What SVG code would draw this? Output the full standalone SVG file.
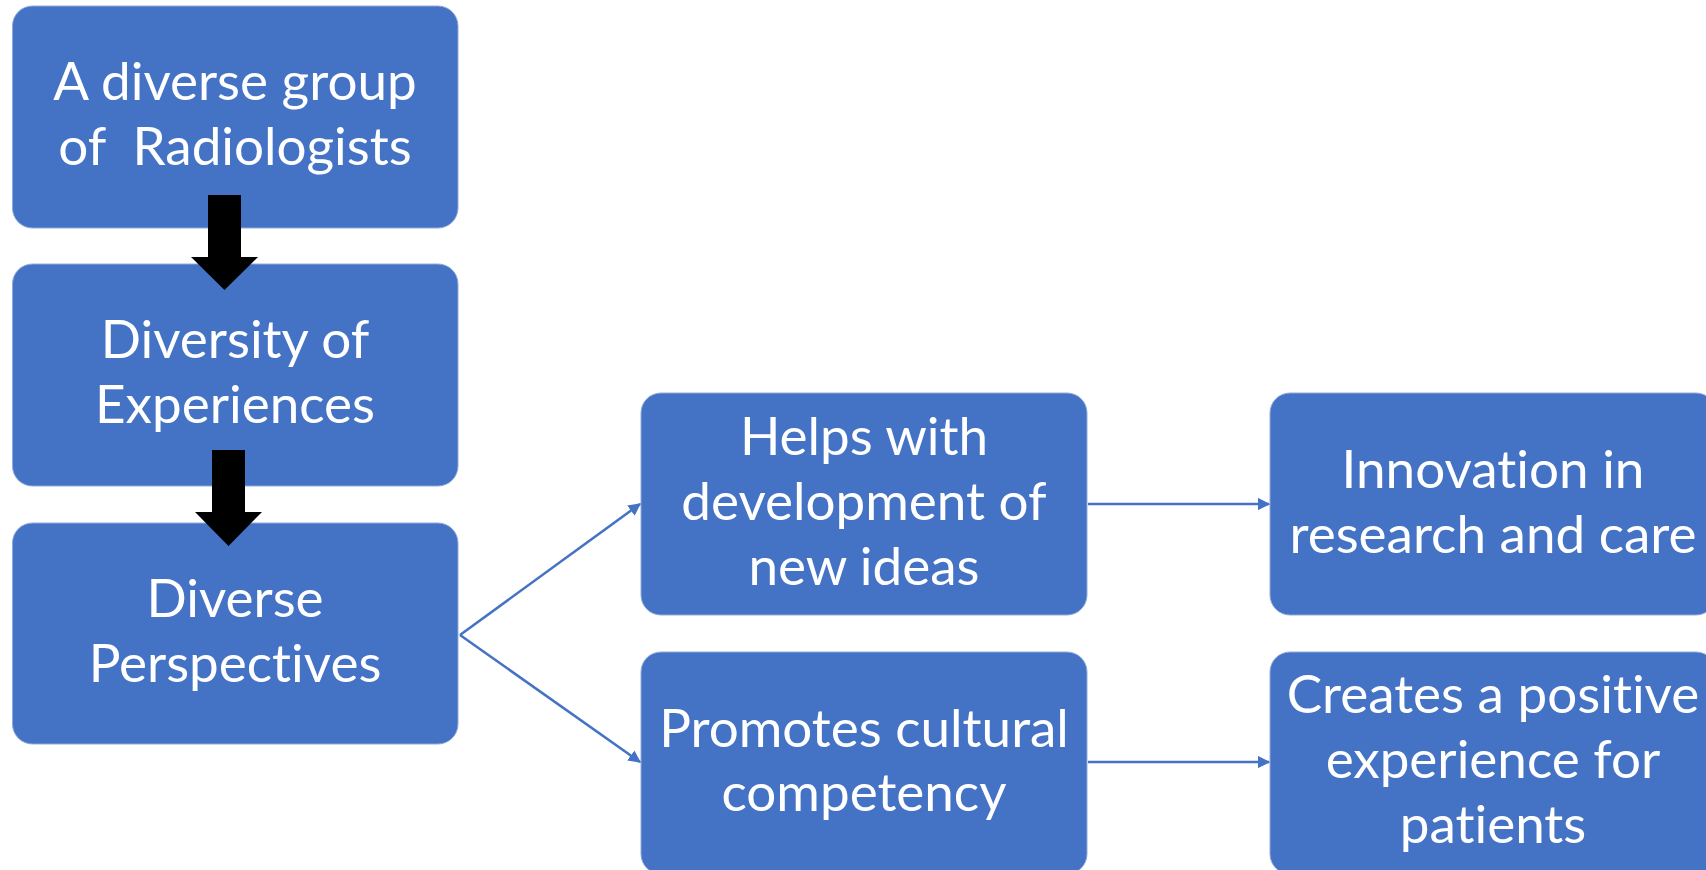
<svg xmlns="http://www.w3.org/2000/svg" width="1706" height="870" viewBox="0 0 1706 870">
  <defs>
    <marker id="tri" viewBox="0 0 10 10" refX="9" refY="5" markerWidth="5" markerHeight="5" orient="auto" markerUnits="strokeWidth">
      <path d="M0,0 L10,5 L0,10 Z" fill="#4472C4"/>
    </marker>
  </defs>
  <style>
    .box { fill: #4472C4; stroke: #8FAADC; stroke-width: 1; }
    .lbl { fill: #FFFFFF; font-family: Lato, "Open Sans", sans-serif; font-size: 53px; text-anchor: middle; font-variant-ligatures: none; font-feature-settings: "liga" 0; }
    .conn { stroke: #4472C4; stroke-width: 2.5; fill: none; marker-end: url(#tri); }
    .block { fill: #000000; }
  </style>
  <rect width="1706" height="870" fill="#FFFFFF"/>

  <g id="node-radiologists">
    <rect class="box" x="12.5" y="6" width="445.5" height="222" rx="20"/>
    <text class="lbl" x="235" y="100">A diverse group</text>
    <text class="lbl" x="235" y="165" xml:space="preserve">of  Radiologists</text>
  </g>

  <g id="node-experiences">
    <rect class="box" x="12.5" y="264" width="445.5" height="222" rx="20"/>
    <text class="lbl" x="235" y="358">Diversity of</text>
    <text class="lbl" x="235" y="423">Experiences</text>
  </g>

  <g id="node-perspectives">
    <rect class="box" x="12.5" y="523" width="445.5" height="221" rx="20"/>
    <text class="lbl" x="235" y="617">Diverse</text>
    <text class="lbl" x="235" y="682">Perspectives</text>
  </g>

  <g id="node-ideas">
    <rect class="box" x="641" y="393" width="446" height="222" rx="20"/>
    <text class="lbl" x="864" y="455">Helps with</text>
    <text class="lbl" x="864" y="520">development of</text>
    <text class="lbl" x="864" y="585">new ideas</text>
  </g>

  <g id="node-competency">
    <rect class="box" x="641" y="652" width="446" height="222" rx="20"/>
    <text class="lbl" x="864" y="747">Promotes cultural</text>
    <text class="lbl" x="864" y="811">competency</text>
  </g>

  <g id="node-innovation">
    <rect class="box" x="1270" y="393" width="446" height="222" rx="20"/>
    <text class="lbl" x="1493" y="488">Innovation in</text>
    <text class="lbl" x="1493" y="553">research and care</text>
  </g>

  <g id="node-patients">
    <rect class="box" x="1270" y="652" width="446" height="222" rx="20"/>
    <text class="lbl" x="1493" y="713">Creates a positive</text>
    <text class="lbl" x="1493" y="778">experience for</text>
    <text class="lbl" x="1493" y="843">patients</text>
  </g>

  <g id="connectors">
    <!-- block arrows between the stacked boxes -->
    <path class="block" d="M208,195 H241 V257 H258 L224.5,290 L191,257 H208 Z"/>
    <path class="block" d="M212,450 H245 V512 H262 L228.5,546 L195,512 H212 Z"/>
    <!-- fan-out from the perspectives box -->
    <line class="conn" x1="460" y1="635" x2="640" y2="504"/>
    <line class="conn" x1="460" y1="635" x2="640" y2="762"/>
    <!-- outcomes -->
    <line class="conn" x1="1088" y1="504" x2="1269" y2="504"/>
    <line class="conn" x1="1088" y1="762" x2="1269" y2="762"/>
  </g>
</svg>
